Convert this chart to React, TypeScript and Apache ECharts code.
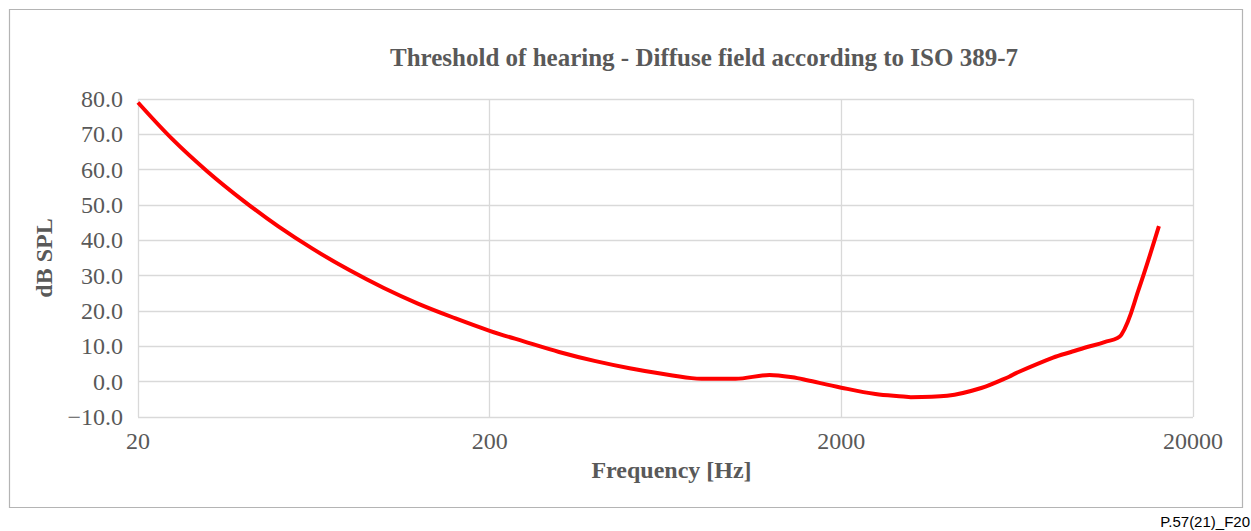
import React, { useEffect, useRef } from "react";
import * as echarts from "echarts";

const frequenciesHz = [20, 25, 31.5, 40, 50, 63, 80, 100, 125, 160, 200, 250, 315, 400, 500, 630, 750, 800, 1000, 1250, 1500, 1600, 2000, 2500, 3000, 3150, 4000, 5000, 6000, 6300, 8000, 9000, 10000, 11200, 12500, 14000, 16000];
const thresholdDb = [79.0, 68.7, 59.5, 51.1, 44.0, 37.5, 31.5, 26.5, 22.1, 17.9, 14.4, 11.4, 8.4, 5.8, 3.8, 2.1, 1.0, 0.8, 0.8, 1.9, 1.0, 0.4, -1.7, -3.5, -4.2, -4.4, -4.0, -1.8, 1.4, 2.5, 6.8, 8.4, 9.8, 11.2, 13.2, 26.0, 44.0];
const xTickLabels = ["20", "200", "2000", "20000"];
const baseFreq = 20;

const titleText = "Threshold of hearing - Diffuse field according to ISO 389-7";
const xName = "Frequency [Hz]";
const yName = "dB SPL";
const footnote = "P.57(21)_F20";

export default function App() {
  const ref = useRef<HTMLDivElement>(null);
  useEffect(() => {
    if (!ref.current) return;
    const chart = echarts.init(ref.current, null, { renderer: "svg" });
    const serif = "'Liberation Serif', 'Times New Roman', serif";
    const gray = "#595959";
    const data = frequenciesHz.map((f, i) => [Math.log10(f / baseFreq), thresholdDb[i]]);
    chart.setOption({
      animation: false,
      backgroundColor: "#ffffff",
      title: {
        text: titleText,
        left: 385,
        top: 40,
        textStyle: { fontFamily: serif, fontWeight: "bold", fontSize: 25, color: gray },
      },
      grid: { left: 138, right: 58, top: 99, bottom: 114, containLabel: false },
      xAxis: {
        type: "value",
        min: 0,
        max: 3,
        interval: 1,
        name: xName,
        nameLocation: "middle",
        nameGap: 40,
        nameTextStyle: { fontFamily: serif, fontWeight: "bold", fontSize: 24, color: gray, padding: [0, 0, 0, 12] },
        axisLine: { show: false },
        axisTick: { show: false },
        axisLabel: {
          fontFamily: serif,
          fontSize: 24,
          color: gray,
          margin: 12,
          formatter: (v: number) => xTickLabels[Math.round(v)] ?? "",
        },
        splitLine: { show: true, lineStyle: { color: "#d9d9d9", width: 1.3 } },
      },
      yAxis: {
        type: "value",
        min: -10,
        max: 80,
        interval: 10,
        name: yName,
        nameLocation: "middle",
        nameGap: 82,
        nameRotate: 90,
        nameTextStyle: { fontFamily: serif, fontWeight: "bold", fontSize: 24, color: gray },
        axisLine: { show: false },
        axisTick: { show: false },
        axisLabel: {
          fontFamily: serif,
          fontSize: 24,
          color: gray,
          margin: 15,
          formatter: (v: number) => (v < 0 ? "\u2212" + Math.abs(v).toFixed(1) : v.toFixed(1)),
        },
        splitLine: { show: true, lineStyle: { color: "#d9d9d9", width: 1.3 } },
      },
      series: [
        {
          type: "line",
          data,
          smooth: 0.35,
          showSymbol: false,
          symbol: "none",
          lineStyle: { color: "#ff0000", width: 4 },
        },
      ],
      graphic: [
        {
          type: "rect",
          shape: { x: 9.5, y: 9.5, width: 1233, height: 498 },
          style: { fill: "none", stroke: "#b4b4b4", lineWidth: 1.2 },
          silent: true,
          z: -1,
        },
        {
          type: "text",
          x: 1250,
          y: 521,
          style: {
            text: footnote,
            fontFamily: "'Liberation Sans', Arial, sans-serif",
            fontSize: 15,
            fill: "#000000",
            align: "right",
            verticalAlign: "middle",
          },
        },
      ],
    });
    return () => chart.dispose();
  }, []);
  return (
    <div
      ref={ref}
      style={{ position: "fixed", left: 0, top: 0, width: 1251, height: 531 }}
    />
  );
}
